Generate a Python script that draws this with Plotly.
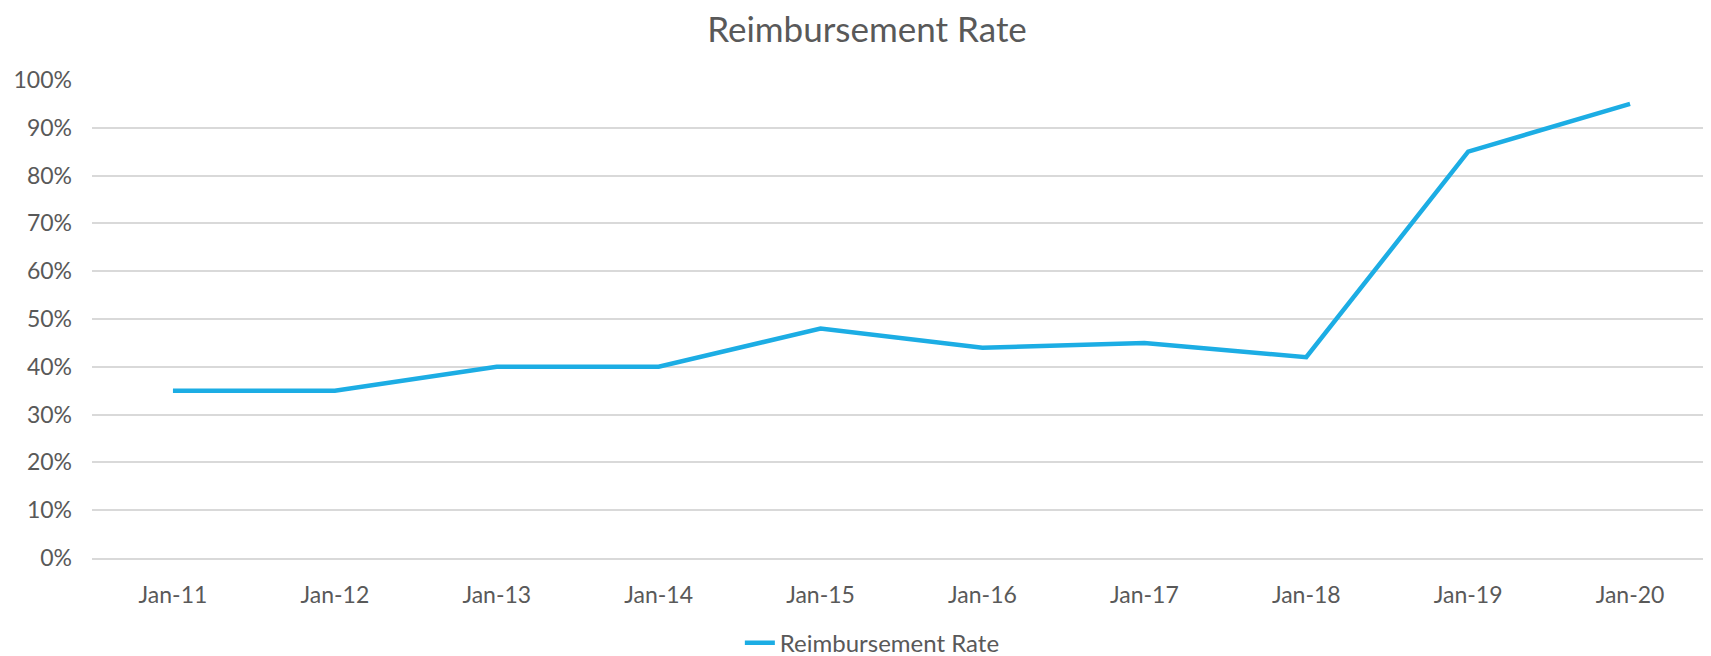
import plotly.graph_objects as go

categories = ["Jan-11", "Jan-12", "Jan-13", "Jan-14", "Jan-15",
              "Jan-16", "Jan-17", "Jan-18", "Jan-19", "Jan-20"]
reimbursement_rate = [0.35, 0.35, 0.40, 0.40, 0.48, 0.44, 0.45, 0.42, 0.85, 0.95]
series_name = "Reimbursement Rate"
chart_title = "Reimbursement Rate"

FONT = "Lato, Open Sans, sans-serif"
GRAY = "#595959"

fig = go.Figure()
fig.add_trace(go.Scatter(
    x=categories, y=reimbursement_rate, mode="lines", name=series_name,
    line=dict(color="#1CADE4", width=4.5),
))

fig.update_layout(
    width=1703, height=648,
    paper_bgcolor="white", plot_bgcolor="white",
    margin=dict(l=84, r=0, t=72, b=98, autoexpand=False),
    title=dict(text=chart_title, x=0.5044, xanchor="center", y=0.966, yanchor="middle",
               font=dict(family=FONT, size=35, color=GRAY)),
    font=dict(family=FONT, color=GRAY),
    showlegend=True,
    legend=dict(orientation="h", x=0.482, xanchor="center", y=-0.178, yanchor="middle",
                font=dict(family=FONT, size=24, color=GRAY)),
    xaxis=dict(type="category", range=[-0.5, 9.5], showgrid=False,
               showline=True, linecolor="#D9D9D9", linewidth=1.5,
               ticks="", ticklabelstandoff=16,
               tickfont=dict(family=FONT, size=23, color=GRAY)),
    yaxis=dict(range=[0, 1.0], tickvals=[i / 10 for i in range(11)],
               tickformat=".0%", showgrid=True, gridcolor="#D9D9D9", gridwidth=1.5,
               zeroline=False, showline=False, ticks="", ticklabelstandoff=19,
               tickfont=dict(family=FONT, size=23, color=GRAY)),
)

fig.write_html("out.html")
